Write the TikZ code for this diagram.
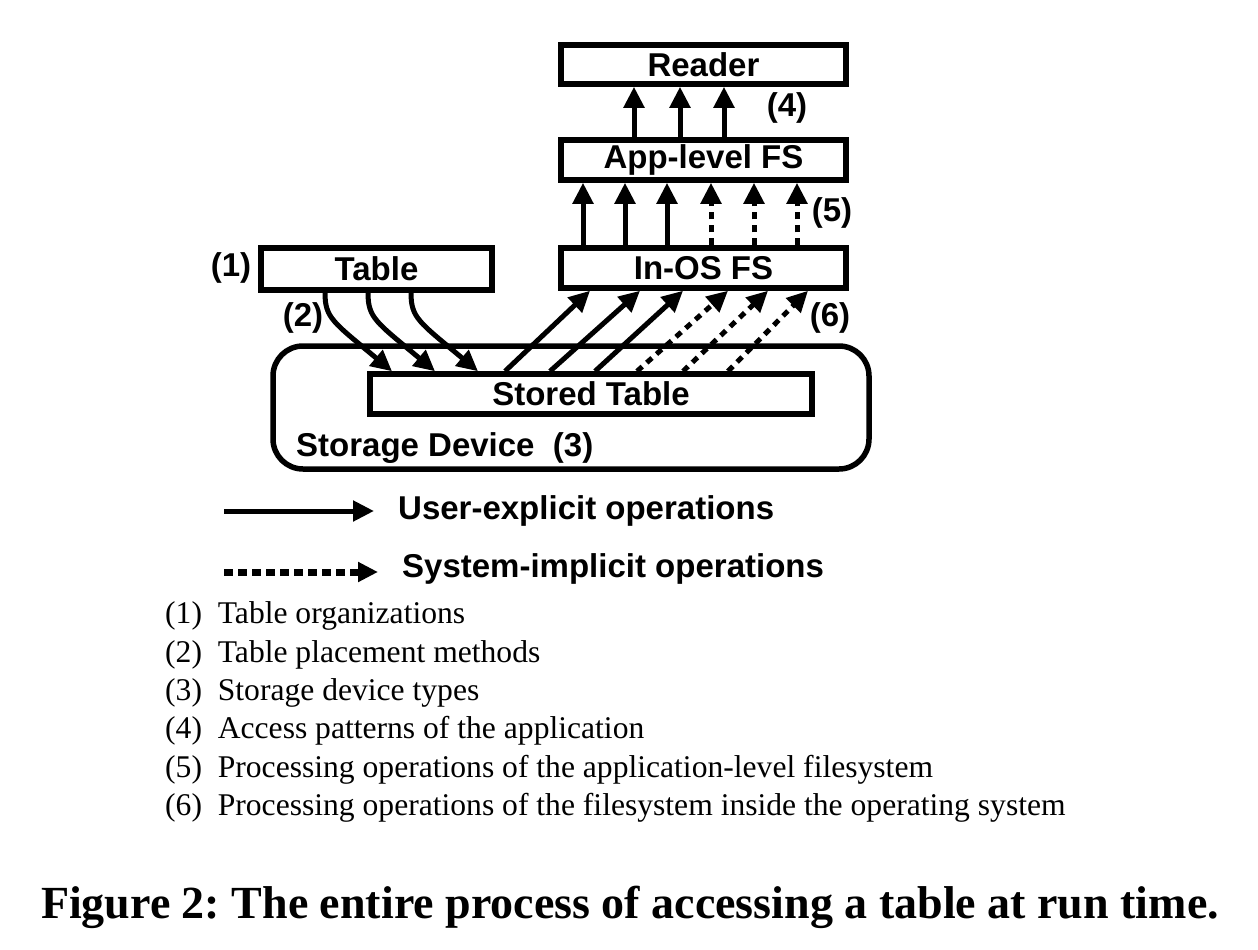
\documentclass[tikz,border=0pt]{standalone}
\usepackage{fontspec}
\setmainfont{Liberation Serif}
\newfontfamily\lblfont{Liberation Sans}
\usetikzlibrary{arrows.meta}
\frenchspacing
\begin{document}
\begin{tikzpicture}[x=1pt,y=-1pt,
  box/.style={draw,line width=5.5pt,inner sep=0pt,font=\lblfont\bfseries\fontsize{33}{35}\selectfont},
  lbl/.style={font=\lblfont\bfseries\fontsize{33}{35}\selectfont,inner sep=0pt},
  item/.style={font=\fontsize{31.6}{33}\selectfont,inner sep=0pt,anchor=base west},
  arr/.style={line width=5pt,-{Triangle[length=21pt,width=20pt]}},
  dotarr/.style={arr,dash pattern=on 7pt off 6pt}]
\useasboundingbox (0,0) rectangle (1258,950);
% boxes
\node[box,minimum width=285pt,minimum height=39pt] (reader) at (703.5,64.5) {Reader};
\node[box,minimum width=285pt,minimum height=40pt] (app) at (703.5,160) {App-level FS};
\node[box,minimum width=285pt,minimum height=40pt] (inos) at (703.5,268) {In-OS FS};
\node[box,minimum width=231pt,minimum height=42pt] (table) at (376.5,269) {Table};
\draw[line width=5.5pt,rounded corners=30pt] (273,346) rectangle (869,469);
\node[box,minimum width=442pt,minimum height=40pt] (stored) at (591,394) {Stored Table};
% labels
\node[lbl] (l1) at (231,268) {(1)};
\node[lbl] (l2) at (303,318) {(2)};
\node[lbl] (l4) at (787,108) {(4)};
\node[lbl] (l5) at (832,213) {(5)};
\node[lbl] (l6) at (830,318) {(6)};
\node[lbl,anchor=base west] (sd) at (296,456) {Storage Device\ \ (3)};
% Reader <- App
\foreach \x in {634,680,724}
  \draw[arr] (app.north -| \x,0) -- (reader.south -| \x,0);
% App <- InOS
\foreach \x in {583,625,667}
  \draw[arr] (inos.north -| \x,0) -- (app.south -| \x,0);
\foreach \x in {711,754,797}
  \draw[dotarr] (inos.north -| \x,0) -- (app.south -| \x,0);
% Table -> Stored
\foreach \a/\b in {325/392,368/435,411/478}
  \draw[arr] (table.south -| \a,0) .. controls (\a,318) and (\a+8,322) .. (stored.north -| \b,0);
% Stored -> InOS
\foreach \a/\b in {505/590,550/640,595/683}
  \draw[arr] (stored.north -| \a,0) -- (inos.south -| \b,0);
\foreach \a/\b in {637/728,683/768,728/808}
  \draw[dotarr] (stored.north -| \a,0) -- (inos.south -| \b,0);
% legend
\coordinate (ls1) at (224,511);
\coordinate (le1) at (374,511);
\coordinate (ls2) at (224,572);
\coordinate (le2) at (378,572);
\draw[arr,line width=5pt] (ls1) -- (le1);
\draw[arr,line width=7pt,dash pattern=on 9pt off 5pt,-{Triangle[length=20pt,width=19pt]}] (ls2) -- (le2);
\node[lbl,anchor=west] (t1) at (398,511) {User-explicit operations};
\node[lbl,anchor=west] (t2) at (402,569) {System-implicit operations};
% items
\node[item] (i1) at (165,623) {(1)\ \ Table organizations};
\node[item] (i2) at (165,662) {(2)\ \ Table placement methods};
\node[item] (i3) at (165,700) {(3)\ \ Storage device types};
\node[item] (i4) at (165,738) {(4)\ \ Access patterns of the application};
\node[item] (i5) at (165,777) {(5)\ \ Processing operations of the application-level filesystem};
\node[item] (i6) at (165,815) {(6)\ \ Processing operations of the filesystem inside the operating system};
\node[font=\bfseries\fontsize{46}{48}\selectfont,inner sep=0pt,anchor=base] (cap) at (630,918) {Figure 2: The entire process of accessing a table at run time.};
\end{tikzpicture}
\end{document}
